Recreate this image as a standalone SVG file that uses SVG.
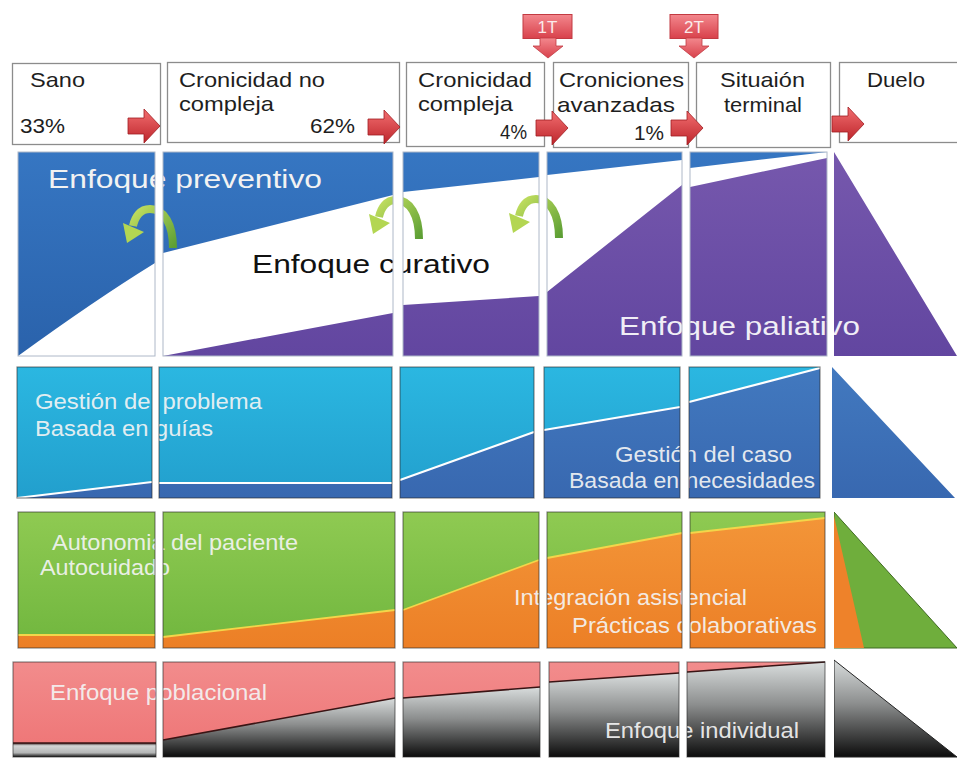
<svg xmlns="http://www.w3.org/2000/svg" width="957" height="760" viewBox="0 0 957 760">
<defs>
<style>
text{font-family:"Liberation Sans",Arial,Helvetica,sans-serif}
.hdr{font-size:21px;fill:#1e1e1e}
.box{fill:#fff;stroke:#8c8c8c;stroke-width:1.3}
.big{font-size:25px}
.lbl{font-size:22px;fill:#f4f4f4;fill-opacity:.93}
.gap{fill:#fff}
.cl{fill:none;stroke:#aeb8c8;stroke-width:1}
.cd{fill:none;stroke:#2a2a2a;stroke-opacity:.55;stroke-width:1.2}
.wl{fill:none;stroke:#fff;stroke-width:2.2}
.yl{fill:none;stroke:#f3d64a;stroke-width:1.8}
.kl{fill:none;stroke:#3a1414;stroke-width:1.6}
.tag{font-size:17px;fill:#fbeaea}
</style>
<linearGradient id="gBlue" x1="0" y1="0" x2="0" y2="1"><stop offset="0" stop-color="#3676c2"/><stop offset="1" stop-color="#2a62ab"/></linearGradient>
<linearGradient id="gPurple" x1="0" y1="0" x2="0" y2="1"><stop offset="0" stop-color="#7658ad"/><stop offset="1" stop-color="#6246a0"/></linearGradient>
<linearGradient id="gCyan" x1="0" y1="0" x2="0" y2="1"><stop offset="0" stop-color="#2bb7e1"/><stop offset="1" stop-color="#229fcd"/></linearGradient>
<linearGradient id="gDBlue" x1="0" y1="0" x2="0" y2="1"><stop offset="0" stop-color="#4279bf"/><stop offset="1" stop-color="#3868b0"/></linearGradient>
<linearGradient id="gGreen" x1="0" y1="0" x2="0" y2="1"><stop offset="0" stop-color="#8fca52"/><stop offset="1" stop-color="#70b63e"/></linearGradient>
<linearGradient id="gOrange" x1="0" y1="0" x2="0" y2="1"><stop offset="0" stop-color="#f39538"/><stop offset="1" stop-color="#ec7f26"/></linearGradient>
<linearGradient id="gSalmon" x1="0" y1="0" x2="0" y2="1"><stop offset="0" stop-color="#f28c8c"/><stop offset="1" stop-color="#ee7475"/></linearGradient>
<linearGradient id="gGray" x1="0" y1="0" x2="0" y2="1"><stop offset="0" stop-color="#d9dddd"/><stop offset="0.45" stop-color="#8c8e8e"/><stop offset="1" stop-color="#0c0c0c"/></linearGradient>
<linearGradient id="gLight" x1="0" y1="0" x2="0" y2="1"><stop offset="0" stop-color="#3a2a2a"/><stop offset="0.2" stop-color="#d4d6d6"/><stop offset="0.7" stop-color="#b4b6b6"/><stop offset="1" stop-color="#101010"/></linearGradient>
<linearGradient id="gRed" x1="0" y1="0" x2="0" y2="1"><stop offset="0" stop-color="#f26e70"/><stop offset="1" stop-color="#bd252b"/></linearGradient>
<linearGradient id="gTag" x1="0" y1="0" x2="0" y2="1"><stop offset="0" stop-color="#f3878d"/><stop offset="1" stop-color="#d8414b"/></linearGradient>
<linearGradient id="gArc" x1="0" y1="0" x2="1" y2="1"><stop offset="0" stop-color="#c4e060"/><stop offset="1" stop-color="#5c9e34"/></linearGradient>
<g id="redArrow"><path d="M0,-8 H16 V-17 L32,0 L16,17 V8 H0 Z" fill="url(#gRed)" stroke="#a11d22" stroke-width="0.8"/></g>
<g id="greenArrow">
<path d="M53,42 C53,18 44,3 30,3 C20,3 15,11 13,20" fill="none" stroke="url(#gArc)" stroke-width="8"/>
<polygon points="3,17 24,26 7,37" fill="#b3d652"/>
</g>
</defs>
<rect width="957" height="760" fill="#fff"/>

<!-- header nodes -->
<g id="node-sano"><rect class="box" x="12.5" y="63.5" width="148" height="81"/><text class="hdr" x="30" y="87" textLength="55" lengthAdjust="spacingAndGlyphs">Sano</text><text class="hdr" x="20" y="133" textLength="45" lengthAdjust="spacingAndGlyphs">33%</text></g>
<g id="node-cronicidad-no-compleja"><rect class="box" x="167.5" y="62.5" width="232" height="80"/><text class="hdr" x="179" y="87" textLength="146" lengthAdjust="spacingAndGlyphs">Cronicidad no</text><text class="hdr" x="179" y="111" textLength="95" lengthAdjust="spacingAndGlyphs">compleja</text><text class="hdr" x="310" y="133" textLength="45" lengthAdjust="spacingAndGlyphs">62%</text></g>
<g id="node-cronicidad-compleja"><rect class="box" x="406.5" y="62.5" width="138" height="84"/><text class="hdr" x="418" y="87" textLength="114" lengthAdjust="spacingAndGlyphs">Cronicidad</text><text class="hdr" x="418" y="111" textLength="95" lengthAdjust="spacingAndGlyphs">compleja</text><text class="hdr" x="500" y="139" textLength="27" lengthAdjust="spacingAndGlyphs">4%</text></g>
<g id="node-croniciones-avanzadas"><rect class="box" x="553.5" y="62.5" width="135" height="85"/><text class="hdr" x="559" y="87" textLength="125" lengthAdjust="spacingAndGlyphs">Croniciones</text><text class="hdr" x="557" y="112" textLength="118" lengthAdjust="spacingAndGlyphs">avanzadas</text><text class="hdr" x="634" y="140" textLength="30" lengthAdjust="spacingAndGlyphs">1%</text></g>
<g id="node-situacion-terminal"><rect class="box" x="696.5" y="62.5" width="134" height="85"/><text class="hdr" x="720" y="87" textLength="85" lengthAdjust="spacingAndGlyphs">Situaión</text><text class="hdr" x="724" y="112" textLength="78" lengthAdjust="spacingAndGlyphs">terminal</text></g>
<g id="node-duelo"><rect class="box" x="839.5" y="62.5" width="130" height="80"/><text class="hdr" x="867" y="87" textLength="58" lengthAdjust="spacingAndGlyphs">Duelo</text></g>

<!-- tags 1T / 2T -->
<g id="node-1T"><rect x="523" y="14.5" width="49" height="24" fill="url(#gTag)" stroke="#c23a42" stroke-width="1"/><text class="tag" x="547.5" y="33" text-anchor="middle">1T</text></g>
<g id="node-2T"><rect x="670" y="14.5" width="48" height="24" fill="url(#gTag)" stroke="#c23a42" stroke-width="1"/><text class="tag" x="694" y="33" text-anchor="middle">2T</text></g>

<!-- band 1 -->
<g id="band-enfoque">
<path d="M18,152 L827,152 L690,168 L682,160 L547,175 L539,177 L403,192 L393,195 L163,253 L155,263 Q95,300 18,356 Z" fill="url(#gBlue)"/>
<path d="M163,356 L393,313 L403,305 L539,296 L547,292 L682,185 L690,187 L827,158 L834,152 L957,356 Z" fill="url(#gPurple)"/>
<text class="big" x="48" y="188" fill="#f2f2f2" textLength="274" lengthAdjust="spacingAndGlyphs">Enfoque preventivo</text>
<text class="big" x="252" y="273" fill="#111" textLength="238" lengthAdjust="spacingAndGlyphs">Enfoque curativo</text>
<text class="big" x="619" y="335" fill="#f0eef6" textLength="241" lengthAdjust="spacingAndGlyphs">Enfoque paliativo</text>
<use href="#greenArrow" x="120" y="206"/>
<use href="#greenArrow" x="366" y="197"/>
<use href="#greenArrow" x="506" y="196"/>
<rect class="gap" x="155" y="150" width="8" height="210"/>
<rect class="gap" x="393" y="150" width="10" height="210"/>
<rect class="gap" x="539" y="150" width="8" height="210"/>
<rect class="gap" x="682" y="150" width="8" height="210"/>
<rect class="gap" x="827" y="150" width="7" height="210"/>
<rect class="cl" x="18" y="152" width="137" height="204"/>
<rect class="cl" x="163" y="152" width="230" height="204"/>
<rect class="cl" x="403" y="152" width="136" height="204"/>
<rect class="cl" x="547" y="152" width="135" height="204"/>
<rect class="cl" x="690" y="152" width="137" height="204"/>
</g>

<!-- band 2 -->
<g id="band-gestion">
<rect x="17" y="367" width="803" height="131" fill="url(#gCyan)"/>
<path d="M17,498 L152,482 L159,483 L392,483 L400,480 L534,432 L544,430 L680,407 L689,402 L820,368 L832,367 L955,498 Z" fill="url(#gDBlue)"/>
<path class="wl" d="M17,498 L152,482 M159,483 L392,483 M400,480 L534,432 M544,430 L680,407 M689,402 L820,368"/>
<text class="lbl" x="35" y="409" textLength="227" lengthAdjust="spacingAndGlyphs">Gestión del problema</text>
<text class="lbl" x="35" y="436" textLength="178" lengthAdjust="spacingAndGlyphs">Basada en guías</text>
<text class="lbl" x="615" y="462" textLength="177" lengthAdjust="spacingAndGlyphs">Gestión del caso</text>
<text class="lbl" x="569" y="488" textLength="246" lengthAdjust="spacingAndGlyphs">Basada en necesidades</text>
<rect class="gap" x="152" y="364" width="7" height="137"/>
<rect class="gap" x="392" y="364" width="8" height="137"/>
<rect class="gap" x="534" y="364" width="10" height="137"/>
<rect class="gap" x="680" y="364" width="9" height="137"/>
<rect class="gap" x="820" y="364" width="12" height="137"/>
<rect class="cd" x="17" y="367" width="135" height="131"/>
<rect class="cd" x="159" y="367" width="233" height="131"/>
<rect class="cd" x="400" y="367" width="134" height="131"/>
<rect class="cd" x="544" y="367" width="136" height="131"/>
<rect class="cd" x="689" y="367" width="131" height="131"/>
</g>

<!-- band 3 -->
<g id="band-autonomia">
<rect x="18" y="512" width="807" height="136" fill="url(#gGreen)"/>
<path d="M18,648 L18,635 L155,635 L163,637 L395,610 L403,610 L539,560 L547,558 L682,533 L690,533 L825,518 L825,648 Z" fill="url(#gOrange)"/>
<path class="yl" d="M18,635 L155,635 M163,637 L395,610 M403,610 L539,560 M547,558 L682,533 M690,533 L825,518"/>
<polygon points="834,512 957,648 834,648" fill="#6fae3c" stroke="#3f6a22" stroke-width="1"/>
<polygon points="834,516 864,648 834,648" fill="#ee822a"/>
<text class="lbl" x="52" y="550" textLength="246" lengthAdjust="spacingAndGlyphs">Autonomia del paciente</text>
<text class="lbl" x="40" y="575" textLength="130" lengthAdjust="spacingAndGlyphs">Autocuidado</text>
<text class="lbl" x="514" y="605" textLength="233" lengthAdjust="spacingAndGlyphs">Integración asistencial</text>
<text class="lbl" x="572" y="633" textLength="245" lengthAdjust="spacingAndGlyphs">Prácticas colaborativas</text>
<rect class="gap" x="155" y="509" width="8" height="142"/>
<rect class="gap" x="395" y="509" width="8" height="142"/>
<rect class="gap" x="539" y="509" width="8" height="142"/>
<rect class="gap" x="682" y="509" width="8" height="142"/>
<rect class="gap" x="825" y="509" width="9" height="142"/>
<rect class="cd" x="18" y="512" width="137" height="136"/>
<rect class="cd" x="163" y="512" width="232" height="136"/>
<rect class="cd" x="403" y="512" width="136" height="136"/>
<rect class="cd" x="547" y="512" width="135" height="136"/>
<rect class="cd" x="690" y="512" width="135" height="136"/>
</g>

<!-- band 4 -->
<g id="band-poblacional">
<rect x="13" y="662" width="812" height="95" fill="url(#gSalmon)"/>
<polygon points="13,743 156,743 156,757 13,757" fill="url(#gLight)"/>
<polygon points="163,740 395,698 395,757 163,757" fill="url(#gGray)"/>
<polygon points="403,698 540,687 540,757 403,757" fill="url(#gGray)"/>
<polygon points="549,682 679,673 679,757 549,757" fill="url(#gGray)"/>
<polygon points="687,672 825,662 825,757 687,757" fill="url(#gGray)"/>
<polygon points="834,660 957,757 834,757" fill="url(#gGray)" stroke="#222" stroke-width="1"/>
<path class="kl" d="M13,743 L156,743 M163,740 L395,698 M403,698 L540,687 M549,682 L679,673 M687,672 L825,662"/>
<text class="lbl" x="50" y="700" font-size="21" textLength="217" lengthAdjust="spacingAndGlyphs">Enfoque poblacional</text>
<text class="lbl" x="605" y="738" font-size="21" textLength="194" lengthAdjust="spacingAndGlyphs">Enfoque individual</text>
<rect class="gap" x="156" y="659" width="7" height="101"/>
<rect class="gap" x="395" y="659" width="8" height="101"/>
<rect class="gap" x="540" y="659" width="9" height="101"/>
<rect class="gap" x="679" y="659" width="8" height="101"/>
<rect class="gap" x="825" y="659" width="9" height="101"/>
<rect class="cd" x="13" y="662" width="143" height="95"/>
<rect class="cd" x="163" y="662" width="232" height="95"/>
<rect class="cd" x="403" y="662" width="137" height="95"/>
<rect class="cd" x="549" y="662" width="130" height="95"/>
<rect class="cd" x="687" y="662" width="138" height="95"/>
</g>

<!-- connectors -->
<g id="connectors">
<use href="#redArrow" x="128" y="126"/>
<use href="#redArrow" x="368" y="127"/>
<use href="#redArrow" x="536" y="128"/>
<use href="#redArrow" x="671" y="128"/>
<use href="#redArrow" x="832" y="124"/>
<path d="M540,38 H556 V46 H563 L548,58 L533,46 H540 Z" fill="url(#gTag)" stroke="#c23a42" stroke-width="0.8"/>
<path d="M686,38 H702 V46 H709 L694,58 L679,46 H686 Z" fill="url(#gTag)" stroke="#c23a42" stroke-width="0.8"/>
</g>
</svg>
